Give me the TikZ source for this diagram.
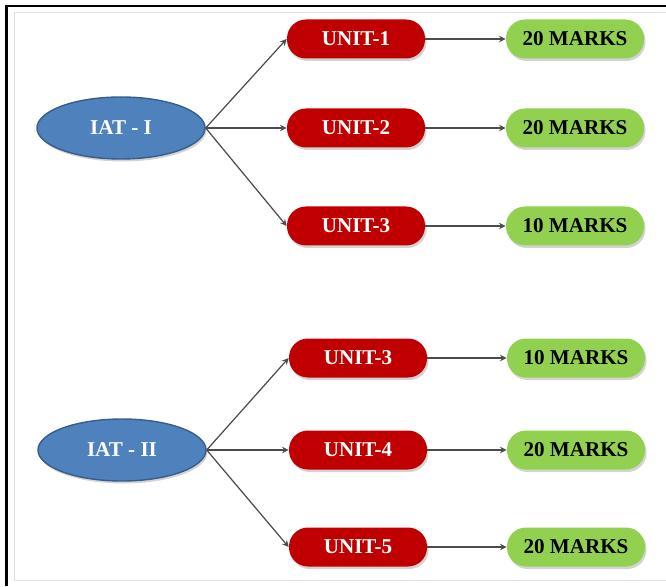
\documentclass[tikz,border=0pt]{standalone}
\usepackage{fontspec}
\setmainfont{Liberation Serif}
\usetikzlibrary{shapes.geometric,shadows,arrows}

\definecolor{iatblue}{RGB}{79,129,189}
\definecolor{iatedge}{RGB}{56,93,138}
\definecolor{unitred}{RGB}{192,0,0}
\definecolor{markgreen}{RGB}{146,208,80}

\begin{document}
\begin{tikzpicture}[
	iat/.style={ ellipse, draw=iatedge, thick, fill=iatblue, text=white, font=\fontsize{12}{14}\selectfont\bfseries, inner sep=0pt, minimum width=3.36cm, minimum height=1.24cm, drop shadow={opacity=0.35, shadow xshift=0.03cm, shadow yshift=-0.05cm} },
	unit/.style={ rectangle, rounded corners=0.38cm, fill=unitred, text=white, font=\fontsize{12}{14}\selectfont\bfseries, inner sep=0pt, minimum width=2.76cm, minimum height=0.78cm, drop shadow={opacity=0.35, shadow xshift=0.03cm, shadow yshift=-0.05cm} },
	marks/.style={ rectangle, rounded corners=0.38cm, fill=markgreen, text=black, font=\fontsize{12}{14}\selectfont\bfseries, inner sep=0pt, minimum width=2.76cm, minimum height=0.78cm, drop shadow={opacity=0.35, shadow xshift=0.03cm, shadow yshift=-0.05cm} },
	link/.style={ ->, >=stealth, black!70, line width=0.7pt }
]

\useasboundingbox (0,0) rectangle (13.32,11.72);
\draw[black!12] (13.32,11.48) -- (0.28,11.48) -- (0.28,0.12) -- (13.32,0.12);
\draw[line width=1.6pt] (0.13,0) -- (0.13,11.6) -- (13.32,11.6);

\node[iat] at (2.42,9.16) (iat1) {IAT - I};
\node[unit] at (7.12,10.94) (a1) {UNIT-1};
\node[unit] at (7.12,9.16) (a2) {UNIT-2};
\node[unit] at (7.12,7.2) (a3) {UNIT-3};
\node[marks] at (11.5,10.94) (am1) {20 MARKS};
\node[marks] at (11.5,9.16) (am2) {20 MARKS};
\node[marks] at (11.5,7.2) (am3) {10 MARKS};

\node[iat] at (2.44,2.72) (iat2) {IAT - II};
\node[unit] at (7.16,4.56) (b1) {UNIT-3};
\node[unit] at (7.16,2.72) (b2) {UNIT-4};
\node[unit] at (7.16,0.78) (b3) {UNIT-5};
\node[marks] at (11.52,4.56) (bm1) {10 MARKS};
\node[marks] at (11.52,2.72) (bm2) {20 MARKS};
\node[marks] at (11.52,0.78) (bm3) {20 MARKS};

\foreach \p in {a1,a2,a3} \draw[link] (iat1.east) to (\p.west);
\foreach \p in {b1,b2,b3} \draw[link] (iat2.east) to (\p.west);
\foreach \p in {1,2,3} \draw[link] (a\p) to (am\p);
\foreach \p in {1,2,3} \draw[link] (b\p) to (bm\p);

\end{tikzpicture}
\end{document}
